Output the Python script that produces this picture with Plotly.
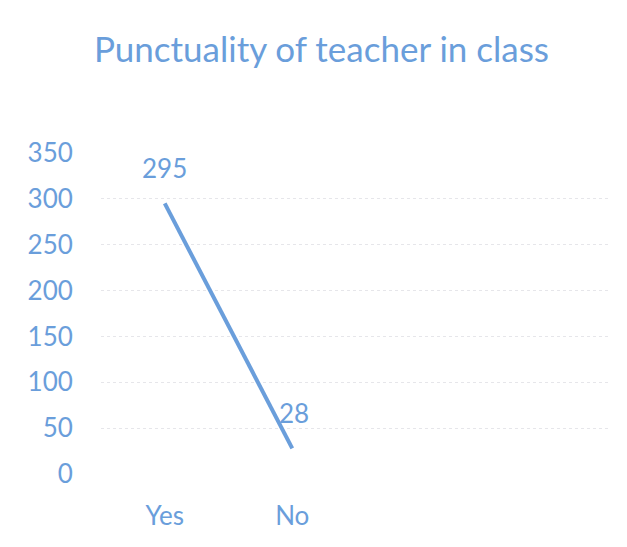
import plotly.graph_objects as go

# data
categories = ["Yes", "No"]
values = [295, 28]
y_ticks = [0, 50, 100, 150, 200, 250, 300, 350]

blue = "#6a9edb"

fig = go.Figure()
fig.add_trace(go.Scatter(
    x=categories,
    y=values,
    mode="lines",
    line=dict(color=blue, width=4),
    hoverinfo="skip",
    showlegend=False,
))

# data labels
fig.add_annotation(x=categories[0], y=values[0], text=str(values[0]),
                   showarrow=False, yshift=35, font=dict(size=26, color=blue))
fig.add_annotation(x=categories[1], y=values[1], text=str(values[1]),
                   showarrow=False, xshift=2, yshift=35, font=dict(size=26, color=blue))

# page body has an 8px margin, so the figure is a bit smaller than the window
fig.update_layout(
    width=611,
    height=531,
    paper_bgcolor="white",
    plot_bgcolor="white",
    margin=dict(l=93, r=8, t=145, b=65),
    font=dict(family="Lato, Open Sans, sans-serif", color=blue),
    title=dict(
        text="Punctuality of teacher in class",
        x=0.513, xanchor="center",
        y=0.921, yanchor="middle",
        font=dict(size=35, color=blue),
    ),
    xaxis=dict(
        type="category",
        categoryarray=categories,
        range=[-0.5, 3.5],
        showgrid=False,
        showline=False,
        zeroline=False,
        ticks="outside",
        ticklen=19,
        tickcolor="rgba(0,0,0,0)",
        tickfont=dict(size=26, color=blue),
    ),
    yaxis=dict(
        range=[0, 350],
        tickvals=y_ticks,
        showgrid=True,
        gridcolor="#e6e6ea",
        griddash="dot",
        gridwidth=1,
        zeroline=False,
        showline=False,
        ticks="outside",
        ticklen=22,
        tickcolor="rgba(0,0,0,0)",
        tickfont=dict(size=26, color=blue),
    ),
)

fig.write_html("out.html")
